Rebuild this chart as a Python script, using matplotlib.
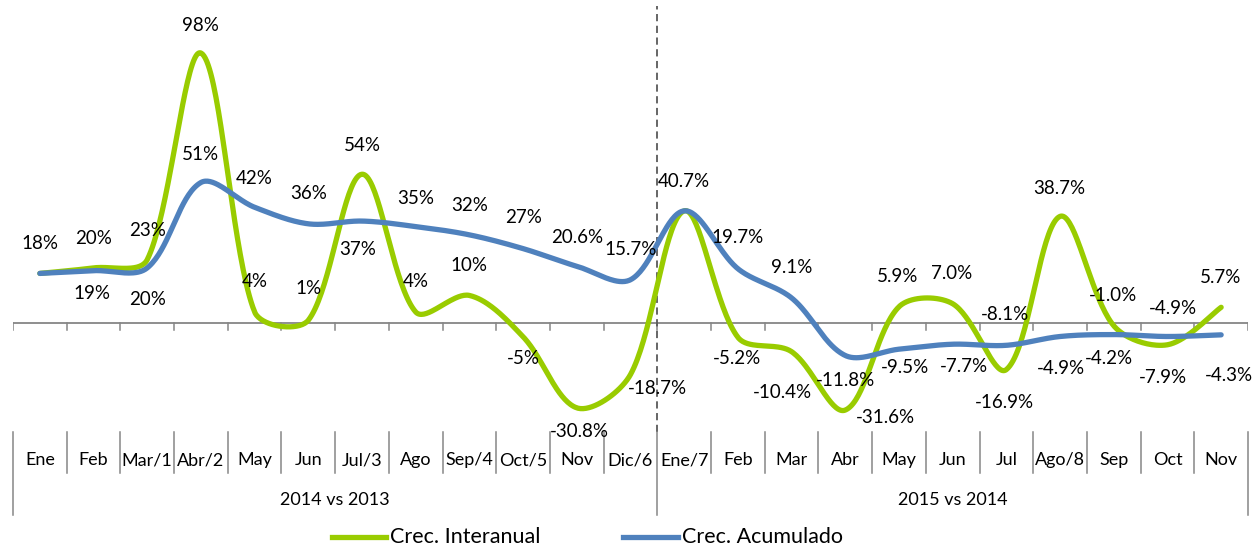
import numpy as np
import matplotlib
matplotlib.use('Agg')
import matplotlib.pyplot as plt
from matplotlib.lines import Line2D
from matplotlib.transforms import blended_transform_factory

# categories and groups
months = ['Ene', 'Feb', 'Mar/1', 'Abr/2', 'May', 'Jun', 'Jul/3', 'Ago', 'Sep/4', 'Oct/5', 'Nov', 'Dic/6',
          'Ene/7', 'Feb', 'Mar', 'Abr', 'May', 'Jun', 'Jul', 'Ago/8', 'Sep', 'Oct', 'Nov']
groups = ['2014 vs 2013', '2015 vs 2014']
group_sizes = [12, 11]

# Crec. Interanual (green)
interanual = [18, 20, 23, 98, 4, 1, 54, 4, 10, -5, -30.8, -18.7,
              40.7, -5.2, -10.4, -31.6, 5.9, 7.0, -16.9, 38.7, -1.0, -7.9, 5.7]
interanual_lbl = ['18%', '20%', '23%', '98%', '4%', '1%', '54%', '4%', '10%', '-5%', '-30.8%', '-18.7%',
                  '40.7%', '-5.2%', '-10.4%', '-31.6%', '5.9%', '7.0%', '-16.9%', '38.7%', '-1.0%', '-7.9%', '5.7%']

# Crec. Acumulado (blue)
acumulado = [18, 19, 20, 51, 42, 36, 37, 35, 32, 27, 20.6, 15.7,
             40.7, 19.7, 9.1, -11.8, -9.5, -7.7, -8.1, -4.9, -4.2, -4.9, -4.3]
acumulado_lbl = [None, '19%', '20%', '51%', '42%', '36%', '37%', '35%', '32%', '27%', '20.6%', '15.7%',
                 None, '19.7%', '9.1%', '-11.8%', '-9.5%', '-7.7%', '-8.1%', '-4.9%', '-4.2%', '-4.9%', '-4.3%']

# label offsets in pixels (dx, dy up)
green_off = [(0, 30), (0, 29), (0, 29), (0, 28), (0, 30), (0, 32), (0, 29), (0, 30), (0, 30), (0, -22), (3, -24), (27, -14),
             (0, 29), (-1, -21), (-9, -41), (40, -7), (-1, 30), (-1, 30), (-2, -33), (-1, 28), (-1, 30), (-5, -33), (-1, 30)]
blue_off = [(0, 0), (-2, -23), (0, -32), (0, 28), (0, 29), (0, 30), (-4, -28), (0, 28), (0, 29), (0, 31), (0, 29), (0, 30),
            (0, 0), (0, 31), (0, 30), (0, -25), (6, -18), (11, -22), (-1, 31), (1, -32), (-5, -24), (5, 28), (8, -41)]

GREEN = '#99cc00'
BLUE = '#4f81bd'
GRAY = '#868686'
FONT = 'Lato'

W, H = 1255, 546
PX_X = 1235 / len(months)   # pixels per category
PX_Y = 2.755                # pixels per percent


def smooth(vals, n=40):
	# Excel-like smoothed line: bezier through the points, built in pixel space,
	# control arms scaled by the length of the neighbouring segments
	p = np.column_stack([np.arange(len(vals)) * PX_X, np.asarray(vals, dtype=float) * PX_Y])
	k = len(p)
	d = np.hypot(*np.diff(p, axis=0).T)
	t = np.linspace(0, 1, n)[:, None]
	out = []
	for i in range(k - 1):
		a, b = p[i], p[i + 1]
		prev = p[i - 1] if i > 0 else a
		nxt = p[i + 2] if i + 2 < k else b
		s0 = 1.0 if i == 0 else min(1.3, 2 * d[i] / (d[i - 1] + d[i]))
		s1 = 1.0 if i + 2 >= k else min(1.3, 2 * d[i] / (d[i] + d[i + 1]))
		c1 = a + (b - prev) / 6 * s0
		c2 = b - (nxt - a) / 6 * s1
		seg = (1 - t)**3 * a + 3 * (1 - t)**2 * t * c1 + 3 * (1 - t) * t**2 * c2 + t**3 * b
		out.append(seg)
	out = np.vstack(out)
	return out[:, 0] / PX_X, out[:, 1] / PX_Y


def fy(py):
	return 1 - py / H


fig = plt.figure(figsize=(W / 100, H / 100), dpi=100)
ax = fig.add_axes([13 / W, fy(432), 1235 / W, 432 / H])
ax.set_xlim(-0.5, len(months) - 0.5)
ax.set_ylim(-(432 - 323) / PX_Y, 323 / PX_Y)
ax.axis('off')

# zero axis with ticks
n = len(months)
bounds = np.arange(n + 1) - 0.5
ax.plot([bounds[0], bounds[-1]], [0, 0], color=GRAY, lw=1.3, zorder=1)
for b in bounds:
	ax.plot([b, b], [0, -7 / PX_Y], color=GRAY, lw=1.1, zorder=1)

# separator between years
split = group_sizes[0] - 0.5
ax.plot([split, split], [ax.get_ylim()[0], 115], color='#595959', lw=1.3, ls=(0, (4, 2.5)), zorder=1, clip_on=False)

# lines
x, y = smooth(interanual)
ax.plot(x, y, color=GREEN, lw=3.8, solid_capstyle='round', zorder=3)
x, y = smooth(acumulado)
ax.plot(x, y, color=BLUE, lw=3.8, solid_capstyle='round', zorder=4)

# data labels
for i in range(n):
	if interanual_lbl[i]:
		ax.annotate(interanual_lbl[i], (i, interanual[i]), xytext=green_off[i], textcoords='offset pixels',
			ha='center', va='center', fontsize=13.5, family=FONT, color='black', zorder=5)
	if acumulado_lbl[i]:
		ax.annotate(acumulado_lbl[i], (i, acumulado[i]), xytext=blue_off[i], textcoords='offset pixels',
			ha='center', va='center', fontsize=13.5, family=FONT, color='black', zorder=5)

# category box below the plot
tr = blended_transform_factory(ax.transData, fig.transFigure)
group_edges = np.concatenate([[0], np.cumsum(group_sizes)]) - 0.5
for b in bounds:
	bottom = 515 if b in group_edges else 473
	ax.add_line(Line2D([b, b], [fy(432), fy(bottom)], transform=tr, color=GRAY, lw=1.1, clip_on=False))
for i, m in enumerate(months):
	ax.text(i, fy(460), m, transform=tr, ha='center', va='center', fontsize=13, family=FONT)
for g, lo, hi in zip(groups, group_edges[:-1], group_edges[1:]):
	ax.text((lo + hi) / 2, fy(500), g, transform=tr, ha='center', va='center', fontsize=13, family=FONT)

# legend
fig.add_artist(Line2D([332 / W, 386 / W], [fy(537), fy(537)], color=GREEN, lw=3.8, transform=fig.transFigure))
fig.text(390 / W, fy(537), 'Crec. Interanual', ha='left', va='center', fontsize=15.5, family=FONT)
fig.add_artist(Line2D([623 / W, 678 / W], [fy(537), fy(537)], color=BLUE, lw=3.8, transform=fig.transFigure))
fig.text(682 / W, fy(537), 'Crec. Acumulado', ha='left', va='center', fontsize=15.5, family=FONT)

fig.savefig('out.png', dpi=100)
